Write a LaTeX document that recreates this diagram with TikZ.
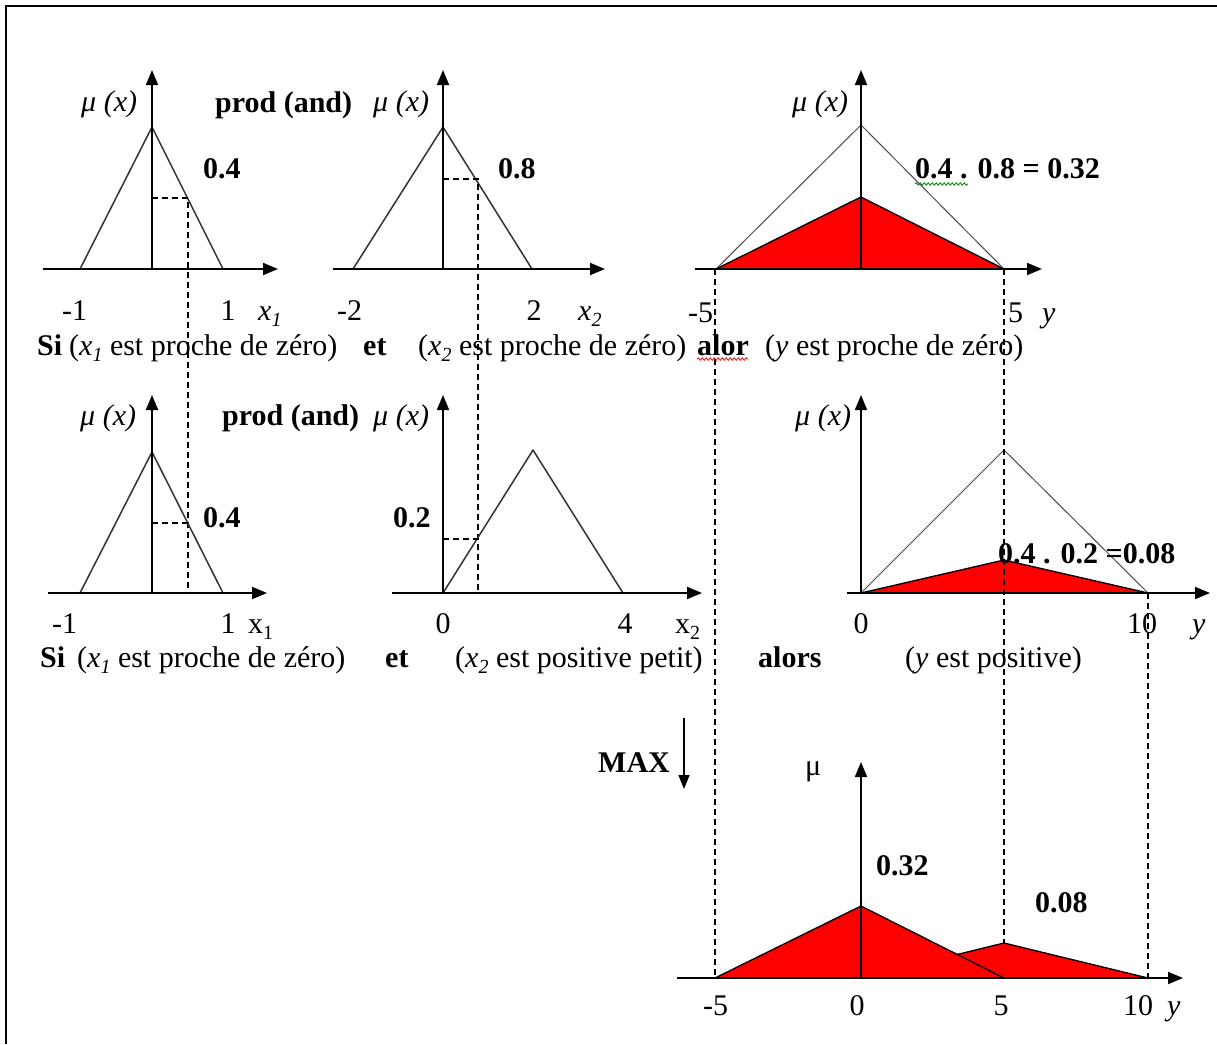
\documentclass[tikz,border=0pt]{standalone}
\usepackage{fontspec}
\setmainfont{Liberation Serif}
\usetikzlibrary{arrows.meta,decorations.pathmorphing}
\newcommand\mysub[1]{\raisebox{-0.22em}{\fontsize{20}{20}\selectfont #1}}
\newcommand\myxone{\textit{x}\mysub{\textit{1}}}
\newcommand\myxtwo{\textit{x}\mysub{\textit{2}}}
\begin{document}
\begin{tikzpicture}[x=1pt,y=-1pt,
  ax/.style={line width=1.8pt,-{Triangle[length=15pt,width=12pt]}},
  mf/.style={line width=1.5pt,draw=black!80,line join=round},
  ghost/.style={line width=1pt,draw=black!70,line join=round},
  cut/.style={fill=red,draw=black,line width=1.3pt,line join=round},
  guide/.style={line width=1.2pt,dash pattern=on 6pt off 4pt},
  txt/.style={inner sep=0pt,anchor=base west,font=\fontsize{30}{36}\selectfont},
  num/.style={inner sep=0pt,anchor=base,font=\fontsize{30}{36}\selectfont},
  wavy/.style={decorate,decoration={snake,amplitude=1.2pt,segment length=4pt},line width=0.8pt}]
\useasboundingbox (0,0) rectangle (1217,1044);
\fill[white] (0,0) rectangle (1217,1044);
% frame
\coordinate (fbl) at (6,1044); \coordinate (ftl) at (6,6); \coordinate (ftr) at (1217,6);
\draw[line width=2pt] (fbl) -- (ftl) -- (ftr);

% ---------- coordinates ----------
\coordinate (A0) at (152,269); \coordinate (Ax0) at (43,269); \coordinate (Ax1) at (278,269); \coordinate (Ay1) at (152,70);
\coordinate (Al) at (80,269); \coordinate (Ap) at (152,127); \coordinate (Ar) at (223,269);
\coordinate (Ah) at (152,198); \coordinate (Ac) at (188,198);
\coordinate (B0) at (443,269); \coordinate (Bx0) at (333,269); \coordinate (Bx1) at (605,269); \coordinate (By1) at (443,70);
\coordinate (Bl) at (353,269); \coordinate (Bp) at (443,127); \coordinate (Br) at (532,269);
\coordinate (Bh) at (443,179); \coordinate (Bc) at (478,179);
\coordinate (C0) at (861,269); \coordinate (Cx0) at (695,269); \coordinate (Cx1) at (1042,269); \coordinate (Cy1) at (861,70);
\coordinate (Cl) at (716,269); \coordinate (Cp) at (861,125); \coordinate (Cr) at (1004,269);
\coordinate (Cq) at (861,197);
\coordinate (D0) at (152,593); \coordinate (Dx0) at (48,593); \coordinate (Dx1) at (267,593); \coordinate (Dy1) at (152,395);
\coordinate (Dl) at (80,593); \coordinate (Dp) at (152,452); \coordinate (Dr) at (223,593);
\coordinate (Dh) at (152,523); \coordinate (Dc) at (188,523); \coordinate (Dd) at (188,593);
\coordinate (E0) at (443,593); \coordinate (Ex0) at (392,593); \coordinate (Ex1) at (702,593); \coordinate (Ey1) at (443,395);
\coordinate (Ep) at (533,450); \coordinate (Er) at (623,593);
\coordinate (Eh) at (443,539); \coordinate (Ec) at (478,539); \coordinate (Ed) at (478,593);
\coordinate (F0) at (861,593); \coordinate (Fx0) at (847,593); \coordinate (Fx1) at (1210,593); \coordinate (Fy1) at (861,395);
\coordinate (Fp) at (1004,450); \coordinate (Fr) at (1148,593); \coordinate (Fq) at (1004,560);
\coordinate (G0) at (861,978); \coordinate (Gx0) at (677,978); \coordinate (Gx1) at (1183,978); \coordinate (Gy1) at (861,762);
\coordinate (Gl) at (715,978); \coordinate (Gp) at (861,906); \coordinate (Gm) at (1004,978);
\coordinate (Gq) at (1004,943); \coordinate (Gr) at (1148,978);
\coordinate (U1) at (715,269); \coordinate (U2) at (1004,269); \coordinate (U3) at (1148,593);
\coordinate (MAXa) at (684,718); \coordinate (MAXb) at (684,789);

% ---------- shapes ----------
\draw[mf] (Al) -- (Ap) -- (Ar);
\draw[guide] (Ah) -- (Ac) -- (Dd);
\draw[ax] (Ax0) -- (Ax1); \draw[ax] (A0) -- (Ay1);
\draw[mf] (Bl) -- (Bp) -- (Br);
\draw[guide] (Bh) -- (Bc) -- (Ed);
\draw[ax] (Bx0) -- (Bx1); \draw[ax] (B0) -- (By1);
\draw[ghost] (Cl) -- (Cp) -- (Cr);
\draw[cut] (Cl) -- (Cq) -- (Cr) -- cycle;
\draw[ax] (Cx0) -- (Cx1); \draw[ax] (C0) -- (Cy1);
\draw[mf] (Dl) -- (Dp) -- (Dr);
\draw[guide] (Dh) -- (Dc);
\draw[ax] (Dx0) -- (Dx1); \draw[ax] (D0) -- (Dy1);
\draw[mf] (E0) -- (Ep) -- (Er);
\draw[guide] (Eh) -- (Ec);
\draw[ax] (Ex0) -- (Ex1); \draw[ax] (E0) -- (Ey1);
\draw[ghost] (F0) -- (Fp) -- (Fr);
\draw[cut] (F0) -- (Fq) -- (Fr) -- cycle;
\draw[ax] (Fx0) -- (Fx1); \draw[ax] (F0) -- (Fy1);
\draw[cut] (F0 |- G0) -- (Gq) -- (Gr) -- cycle;
\draw[cut] (Gl) -- (Gp) -- (Gm) -- cycle;
\draw[ax] (Gx0) -- (Gx1); \draw[ax] (G0) -- (Gy1);
\draw[guide] (U1) -- (Gl);
\draw[guide] (U2) -- (Gq);
\draw[guide] (U3) -- (Gr);
\draw[line width=1.5pt,-{Triangle[length=14pt,width=11pt]}] (MAXa) -- (MAXb);

% ---------- texts ----------
\node[txt] (tA) at (81,111) {\textit{μ (x)}};
\node[txt] (tB) at (373,111) {\textit{μ (x)}};
\node[txt] (tC) at (792,111) {\textit{μ (x)}};
\node[txt] (pr1) at (215,112) {\textbf{prod (and)}};
\node[txt] (v1) at (203,178) {\textbf{0.4}};
\node[txt] (v2) at (498,178) {\textbf{0.8}};
\node[txt] (v3) at (915,178) {\textbf{0.4 . 0.8 = 0.32}};
\node[txt] (kA1) at (62,320) {-1};
\node[num] (kA2) at (228,320) {1};
\node[txt] (kA3) at (258,320) {\myxone};
\node[txt] (kB1) at (337,320) {-2};
\node[num] (kB2) at (534,320) {2};
\node[txt] (kB3) at (578,320) {\myxtwo};
\node[txt] (kC1) at (688,322) {-5};
\node[txt] (kC2) at (1008,322) {5};
\node[txt] (kC3) at (1042,322) {\textit{y}};
\node[txt] (s1a) at (37,355) {\textbf{Si}};
\node[txt] (s1b) at (69,355) {(\myxone{} est proche de zéro)};
\node[txt] (s1c) at (363,355) {\textbf{et}};
\node[txt] (s1d) at (418,355) {(\myxtwo{} est proche de zéro)};
\node[txt] (s1e) at (697,355) {\textbf{alor}};
\node[txt] (s1f) at (765,355) {(\textit{y} est proche de zéro)};
\draw[wavy,red] (s1e.base west) ++(0,4) coordinate (w1a) -- ++(51,0) coordinate (w1b);
\draw[wavy,green!50!black] (v3.base west) ++(0,6) coordinate (w2a) -- ++(53,0) coordinate (w2b);
\node[txt] (tD) at (80,425) {\textit{μ (x)}};
\node[txt] (tE) at (373,425) {\textit{μ (x)}};
\node[txt] (tF) at (795,425) {\textit{μ (x)}};
\node[txt] (pr2) at (222,425) {\textbf{prod (and)}};
\node[txt] (v4) at (203,527) {\textbf{0.4}};
\node[txt] (v5) at (393,527) {\textbf{0.2}};
\node[txt] (v6) at (998,563) {\textbf{0.4 . 0.2 =0.08}};
\node[txt] (kD1) at (52,633) {-1};
\node[num] (kD2) at (228,633) {1};
\node[txt] (kD3) at (248,633) {x\mysub{1}};
\node[num] (kE1) at (443,633) {0};
\node[num] (kE2) at (625,633) {4};
\node[txt] (kE3) at (675,633) {x\mysub{2}};
\node[num] (kF1) at (861,633) {0};
\node[num] (kF2) at (1142,633) {10};
\node[txt] (kF3) at (1192,633) {\textit{y}};
\node[txt] (s2a) at (40,667) {\textbf{Si}};
\node[txt] (s2b) at (77,667) {(\myxone{} est proche de zéro)};
\node[txt] (s2c) at (385,667) {\textbf{et}};
\node[txt] (s2d) at (455,667) {(\myxtwo{} est positive petit)};
\node[txt] (s2e) at (758,667) {\textbf{alors}};
\node[txt] (s2f) at (905,667) {(\textit{y} est positive)};
\node[txt] (mx) at (598,772) {\textbf{MAX}};
\node[txt] (mu) at (805,775) {μ};
\node[txt] (v7) at (876,875) {\textbf{0.32}};
\node[txt] (v8) at (1035,912) {\textbf{0.08}};
\node[txt] (kG1) at (703,1015) {-5};
\node[num] (kG2) at (857,1015) {0};
\node[num] (kG3) at (1001,1015) {5};
\node[num] (kG4) at (1138,1015) {10};
\node[txt] (kG5) at (1167,1015) {\textit{y}};
\end{tikzpicture}
\end{document}
